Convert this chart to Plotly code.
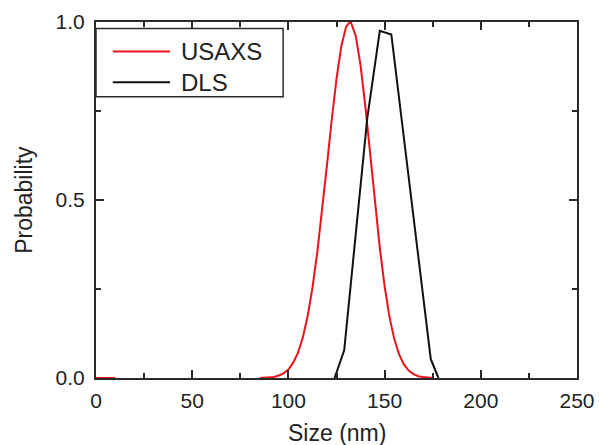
import plotly.graph_objects as go

# ---- data ----
usaxs_x = [0, 10, None,
           85, 87.5, 90, 92.5, 95, 97.5, 100, 102.5, 105, 107.5, 110, 112.5, 115, 117.5,
           120, 122.5, 125, 127.5, 130, 132, 132.5, 135, 137.5, 140, 142.5, 145, 147.5,
           150, 152.5, 155, 157.5, 160, 162.5, 165, 167.5, 170, 172.5, 175]
usaxs_y = [0, 0, None,
           0.000, 0.001, 0.002, 0.003, 0.007, 0.013, 0.024, 0.043, 0.071, 0.114, 0.174, 0.253,
           0.352, 0.469, 0.596, 0.724, 0.840, 0.932, 0.987, 1.000, 0.999, 0.961, 0.878, 0.763,
           0.629, 0.492, 0.366, 0.258, 0.173, 0.110, 0.067, 0.038, 0.021, 0.011, 0.005, 0.003,
           0.001, 0.000]

dls_x = [124.0, 129.0, 141.0, 147.5, 153.5, 174.0, 178.0]
dls_y = [0.0, 0.078, 0.73, 0.975, 0.965, 0.053, 0.0]

legend_names = ["USAXS", "DLS"]
colors = ["#e8141b", "#111111"]

x_ticks = [0, 50, 100, 150, 200, 250]
y_ticks = [0.0, 0.5, 1.0]
y_ticklabels = ["0.0", "0.5", "1.0"]

FONT = "Liberation Sans, Arial, sans-serif"
AX = "#2a2a2a"

fig = go.Figure()
fig.add_trace(go.Scatter(x=usaxs_x, y=usaxs_y, mode="lines", name=legend_names[0],
                         line=dict(color=colors[0], width=2), connectgaps=False,
                         showlegend=False))
fig.add_trace(go.Scatter(x=dls_x, y=dls_y, mode="lines", name=legend_names[1],
                         line=dict(color=colors[1], width=2), showlegend=False))

axis_common = dict(
    showline=True, linecolor=AX, linewidth=2, mirror="ticks",
    ticks="inside", ticklen=8, tickwidth=1.5, tickcolor=AX,
    showgrid=False, zeroline=False, automargin=False,
    tickfont=dict(family=FONT, size=21, color="#222"),
)

fig.update_xaxes(range=[0, 250], tickvals=x_ticks,
                 minor=dict(ticks="inside", ticklen=5, dtick=25, tick0=0, tickcolor=AX, tickwidth=1.5),
                 ticklabelstandoff=3,
                 **axis_common)
fig.update_yaxes(range=[0, 1.0], tickvals=y_ticks, ticktext=y_ticklabels,
                 minor=dict(ticks="inside", ticklen=5, dtick=0.25, tick0=0, tickcolor=AX, tickwidth=1.5),
                 ticklabelstandoff=5,
                 **axis_common)

# legend drawn manually in paper coordinates
shapes = [dict(type="rect", xref="paper", yref="paper", x0=0, x1=0.389, y0=0.79, y1=0.982,
               line=dict(color=AX, width=1.5), fillcolor="white", layer="above")]
annotations = []
for i, (nm, c) in enumerate(zip(legend_names, colors)):
    yy = 0.917 - i * 0.086
    shapes.append(dict(type="line", xref="paper", yref="paper", x0=0.035, x1=0.154, y0=yy, y1=yy,
                       line=dict(color=c, width=2), layer="above"))
    annotations.append(dict(xref="paper", yref="paper", x=0.172, y=yy, text=nm, showarrow=False,
                            xanchor="left", yanchor="middle",
                            font=dict(family=FONT, size=24, color="#222")))

# axis titles
annotations.append(dict(xref="paper", yref="paper", x=0.5, y=-0.155, text="Size (nm)",
                        showarrow=False, xanchor="center", yanchor="middle",
                        font=dict(family=FONT, size=23, color="#222")))
annotations.append(dict(xref="paper", yref="paper", x=-0.15, y=0.5, text="Probability",
                        showarrow=False, xanchor="center", yanchor="middle", textangle=-90,
                        font=dict(family=FONT, size=23, color="#222")))

# the page adds an 8px body margin, so the figure is sized to fit inside 610x445
fig.update_layout(width=602, height=437, margin=dict(l=88, r=33, t=14, b=67),
                  paper_bgcolor="white", plot_bgcolor="white",
                  shapes=shapes, annotations=annotations, showlegend=False)

fig.write_html("out.html")
